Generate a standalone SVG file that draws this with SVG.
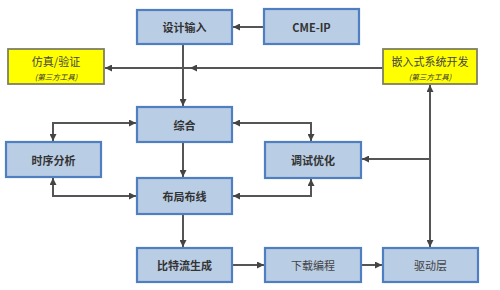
<svg xmlns="http://www.w3.org/2000/svg" width="500" height="290" viewBox="0 0 500 290">
<style>
.b{fill:#b9cde5;stroke:#4f7fc0;stroke-width:2.2}
.y{fill:#ffff00;stroke:#7f8060;stroke-width:1.8}
.t{font-family:"Noto Sans CJK SC","Noto Sans",sans-serif;font-size:11px;font-weight:bold;fill:#333;text-anchor:middle;dominant-baseline:central}
.l{font-weight:normal;fill:#444}
.s{font-family:"Noto Sans CJK SC","Noto Sans",sans-serif;font-size:7.5px;font-style:italic;fill:#333;text-anchor:middle;dominant-baseline:central}
.c{fill:none;stroke:#555;stroke-width:2}
</style>
<defs>
<marker id="a" viewBox="0 0 10 10" refX="10" refY="5" markerWidth="7" markerHeight="7" markerUnits="userSpaceOnUse" orient="auto-start-reverse">
<path d="M0,0L10,5L0,10z" fill="#444"/>
</marker>
</defs>
<g id="connectors">
<path class="c" d="M264,27H233" marker-end="url(#a)"/>
<path class="c" d="M383,68H105" marker-end="url(#a)"/>
<path class="c" d="M383,68H190" marker-end="url(#a)"/>
<path class="c" d="M183,44V106" marker-end="url(#a)"/>
<path class="c" d="M136,123H53V141" marker-start="url(#a)" marker-end="url(#a)"/>
<path class="c" d="M233,123H311V141" marker-start="url(#a)" marker-end="url(#a)"/>
<path class="c" d="M183,142V177" marker-end="url(#a)"/>
<path class="c" d="M53,178V196H136" marker-start="url(#a)" marker-end="url(#a)"/>
<path class="c" d="M233,196H311V179" marker-start="url(#a)" marker-end="url(#a)"/>
<path class="c" d="M430,85V247" marker-start="url(#a)" marker-end="url(#a)"/>
<path class="c" d="M430,159H362" marker-end="url(#a)"/>
<path class="c" d="M183,214V247" marker-end="url(#a)"/>
<path class="c" d="M232,265H264" marker-end="url(#a)"/>
<path class="c" d="M361,265H382" marker-end="url(#a)"/>
</g>
<g id="design-input"><rect class="b" x="137" y="10" width="95" height="34"/><text class="t" x="184.5" y="27">设计输入</text></g>
<g id="cme-ip"><rect class="b" x="264" y="9" width="95" height="35"/><text class="t" x="311.5" y="27">CME-IP</text></g>
<g id="simulation"><rect class="y" x="8" y="49" width="96" height="35"/><text class="t l" x="56" y="61">仿真/验证</text><text class="s" x="56" y="76">(第三方工具)</text></g>
<g id="embedded"><rect class="y" x="383" y="49" width="94" height="35"/><text class="t l" x="430" y="61">嵌入式系统开发</text><text class="s" x="430" y="76">(第三方工具)</text></g>
<g id="synthesis"><rect class="b" x="137" y="107" width="95" height="35"/><text class="t" x="184.5" y="124.5">综合</text></g>
<g id="timing"><rect class="b" x="6" y="142" width="95" height="35"/><text class="t" x="53.5" y="159.5">时序分析</text></g>
<g id="debug"><rect class="b" x="265" y="142" width="96" height="36"/><text class="t" x="313" y="160">调试优化</text></g>
<g id="place-route"><rect class="b" x="137" y="178" width="95" height="36"/><text class="t" x="184.5" y="196">布局布线</text></g>
<g id="bitstream"><rect class="b" x="137" y="248" width="95" height="34"/><text class="t" x="184.5" y="265">比特流生成</text></g>
<g id="download"><rect class="b" x="265" y="248" width="96" height="34"/><text class="t l" x="313" y="265">下载编程</text></g>
<g id="driver"><rect class="b" x="383" y="248" width="95" height="34"/><text class="t l" x="430.5" y="265">驱动层</text></g>
</svg>
